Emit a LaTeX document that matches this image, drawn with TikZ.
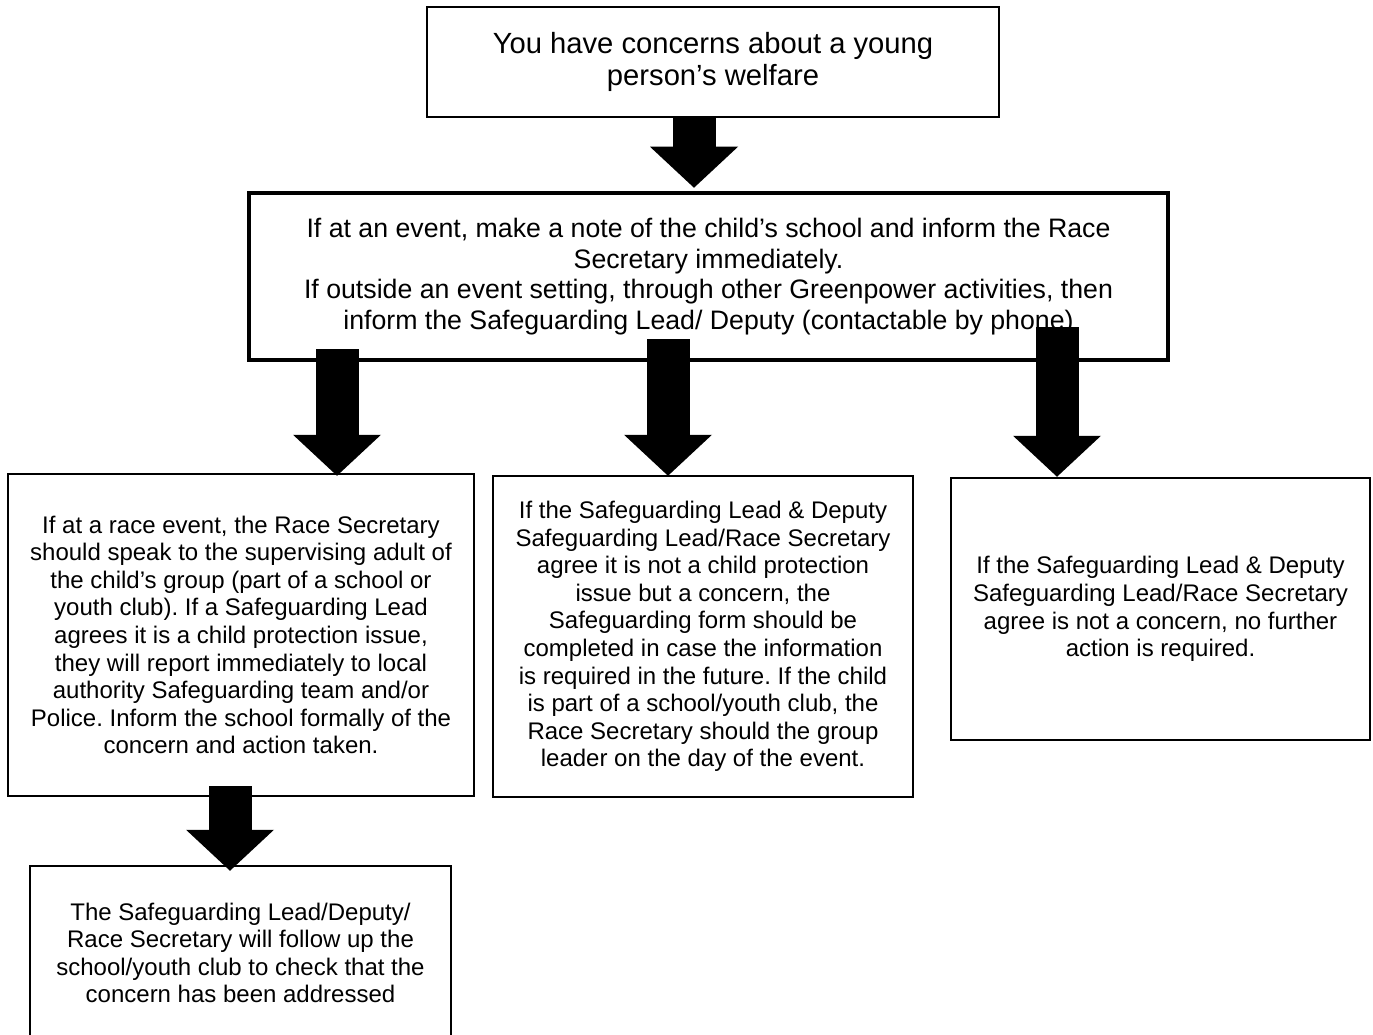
\documentclass[tikz,border=0pt]{standalone}
\usepackage{fontspec}
\setmainfont{Liberation Sans}
\usepackage{tikz}
\usetikzlibrary{calc,arrows.meta}
\frenchspacing
\tikzstyle{box}        = [rectangle, draw=black, line width=2.5pt, align=center, inner sep=0pt, font=\fontsize{24}{27.6}\selectfont]
\tikzstyle{blockarrow} = [line width=43pt, -{Triangle[length=41pt,width=88pt,line width=0pt]}]

\begin{document}
\begin{tikzpicture}[x=1pt,y=-1pt]
		\clip (0,0) rectangle (1373,1035);

		\node[box, minimum width=572pt, minimum height=110pt, font=\fontsize{29.2}{32}\selectfont] (top) at (713,62)
			{You have concerns about a young\\person’s welfare};
		\node[box, line width=4.5pt, minimum width=919pt, minimum height=167pt, font=\fontsize{26.7}{30.7}\selectfont] (sec) at (708.5,276.5)
			{If at an event, make a note of the child’s school and inform the Race\\
			Secretary immediately.\\
			If outside an event setting, through other Greenpower activities, then\\
			inform the Safeguarding Lead/ Deputy (contactable by phone)};

		\node[box, minimum width=466pt, minimum height=322pt] (left) at (241,635)
			{If at a race event, the Race Secretary\\
			should speak to the supervising adult of\\
			the child’s group (part of a school or\\
			youth club). If a Safeguarding Lead\\
			agrees it is a child protection issue,\\
			they will report immediately to local\\
			authority Safeguarding team and/or\\
			Police. Inform the school formally of the\\
			concern and action taken.};
		\node[box, minimum width=420pt, minimum height=321pt] (mid) at (703,636.5)
			{If the Safeguarding Lead \& Deputy\\
			Safeguarding Lead/Race Secretary\\
			agree it is not a child protection\\
			issue but a concern, the\\
			Safeguarding form should be\\
			completed in case the information\\
			is required in the future. If the child\\
			is part of a school/youth club, the\\
			Race Secretary should the group\\
			leader on the day of the event.};
		\node[box, minimum width=419pt, minimum height=262pt] (right) at (1160.5,609)
			{If the Safeguarding Lead \& Deputy\\
			Safeguarding Lead/Race Secretary\\
			agree is not a concern, no further\\
			action is required.};

		\node[box, minimum width=421pt, minimum height=174pt] (follow) at (240.5,953)
			{The Safeguarding Lead/Deputy/\\
			Race Secretary will follow up the\\
			school/youth club to check that the\\
			concern has been addressed};

		\draw[blockarrow] ($(top.south)+(-19,0)$) -- ($(sec.north)+(-14.5,-3)$);
		\draw[blockarrow] ($(sec.south)+(-371.5,-13)$) -- ($(left.north)+(96,3)$);
		\draw[blockarrow] ($(sec.south)+(-40.5,-23)$) -- ($(mid.north)+(-35,1)$);
		\draw[blockarrow] ($(sec.south)+(348.5,-35)$) -- ($(right.north)+(-103.5,0)$);
		\draw[blockarrow] ($(left.south)+(-11,-11)$) -- ($(follow.north)+(-10.5,6)$);
	\end{tikzpicture}
\end{document}
